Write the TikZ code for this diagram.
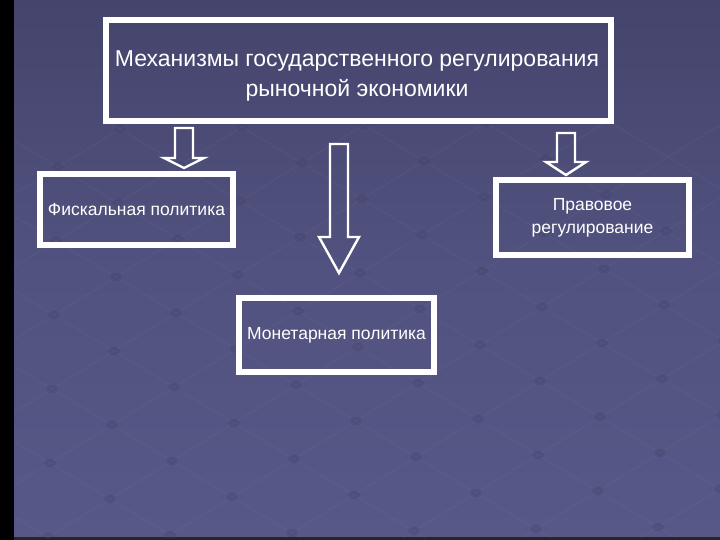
\documentclass[tikz,border=0pt]{standalone}
\usepackage{fontspec}
\setmainfont{Liberation Sans}
\usetikzlibrary{calc}
\definecolor{bgtop}{RGB}{68,68,108}
\definecolor{bgmid}{RGB}{82,82,128}
\definecolor{bgbot}{RGB}{88,88,136}
\definecolor{gridc}{RGB}{150,150,200}
\definecolor{dotc}{RGB}{62,62,102}
\tikzset{
  whitebox/.style={draw=white, line width=6pt, inner sep=0pt, align=center, text=white, font=\fontsize{17.5}{23}\selectfont},
  whitetext/.style={inner sep=0pt, align=center, text=white},
  hollow/.style={draw=white, line width=2.4pt, line join=miter},
}
\newcommand\hollowarr[5]{% name, x, top, headbase, tip
  \coordinate (#1s) at (#2,#3);
  \coordinate (#1e) at (#2,#5);
  \draw[hollow] ($(#1s)+(-9,0)$) -- ($(#1s)+(9,0)$) -- (#2+9,#4) -- (#2+20,#4) -- (#1e) -- (#2-20,#4) -- (#2-9,#4) -- cycle;
}
\begin{document}
\begin{tikzpicture}[x=1pt,y=-1pt]
\useasboundingbox (0,0) rectangle (720,540);
% background
\shade[top color=bgtop, bottom color=bgbot, middle color=bgmid] (0,0) rectangle (720,540);
\fill[black] (0,0) rectangle (14,540);
\fill[black!85] (14,537) rectangle (720,540);
% faint perspective grid
\begin{scope}
\clip (14,125) rectangle (720,537);
\foreach \i in {-9,...,10}{
  \draw[gridc, opacity=0.10, line width=0.8pt] (112-62*\i,425+38*\i) ++(-600,-360) -- ++(1200,720);
  \draw[gridc, opacity=0.10, line width=0.8pt] (112+60*\i,425+36*\i) ++(-620,380) -- ++(1240,-760);
}
\foreach \i in {-7,...,9}{
  \foreach \j in {-7,...,9}{
    \fill[dotc, opacity=0.30] (112+60*\i-62*\j, 425+36*\i+38*\j) ellipse (6 and 4);
  }
}
\end{scope}
% boxes
\node[whitebox, minimum width=505pt, minimum height=101pt] (top) at (358.5,70.5) {};
\node[whitetext, font=\fontsize{23}{30}\selectfont] (toptext) at (357,76)
  {Механизмы государственного регулирования\\рыночной экономики};
\node[whitebox, minimum width=193pt, minimum height=71pt] (fisc) at (136.5,209.5) {Фискальная политика};
\node[whitebox, minimum width=193pt, minimum height=75pt] (law) at (592.5,217.5) {Правовое\\регулирование};
\node[whitebox, minimum width=195pt, minimum height=74pt] (mon) at (336.5,335) {Монетарная политика};
% hollow arrows
\hollowarr{al}{184}{128}{158}{168}
\hollowarr{am}{339}{144}{237}{273}
\hollowarr{ar}{566}{133}{162}{175}
\end{tikzpicture}
\end{document}
